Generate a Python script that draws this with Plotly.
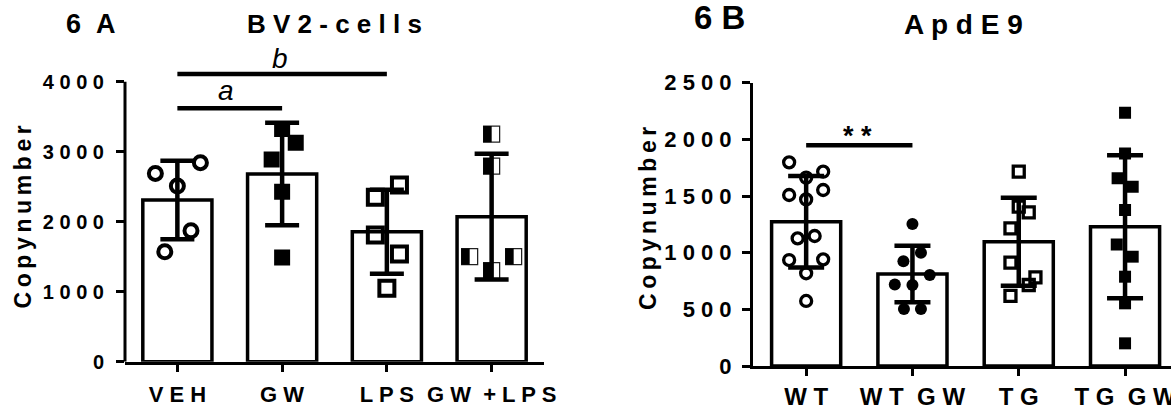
import plotly.graph_objects as go

W, H = 1171, 410
FONT = "Arial, Liberation Sans, sans-serif"
NB = "\u00a0"

# ---------------- Panel A (BV2-cells) ----------------
a_categories = ["VEH", "GW", "LPS", "GW+LPS"]
a_ticklabels = ["V E H", "G W", "L P S", "G W" + NB + NB + "+ L P S"]
a_means = [2310, 2681, 1857, 2071]
a_sd = [560, 733, 600, 898]
a_veh = [2690, 2843, 2510, 1871, 1571]
a_gw = [3324, 3129, 2890, 2429, 1490]
a_lps = [2524, 2348, 1810, 1538, 1048]
a_gwlps = [3252, 2795, 1500, 1500, 1300]
a_yticks = [0, 1000, 2000, 3000, 4000]
a_yticklabels = ["0", "1 0 0 0", "2 0 0 0", "3 0 0 0", "4 0 0 0"]
a_sig_a_level = 3619
a_sig_b_level = 4110

# ---------------- Panel B (ApdE9) ----------------
b_categories = ["WT", "WT GW", "TG", "TG GW"]
b_ticklabels = ["W T", "W T" + NB + NB + "G W", "T G", "T G" + NB + NB + "G W"]
b_means = [1273, 812, 1097, 1229]
b_sd = [404, 250, 388, 631]
b_wt = [1797, 1715, 1662, 1553, 1509, 1470, 1147, 1126, 941, 935, 818, 574]
b_wtgw = [1253, 1000, 925, 803, 720, 715, 503, 503]
b_tg = [1715, 1406, 1356, 1215, 912, 782, 715, 618]
b_tggw = [2235, 1876, 1656, 1582, 1376, 1073, 965, 788, 553, 200]
b_yticks = [0, 500, 1000, 1500, 2000, 2500]
b_yticklabels = ["0", "5 0 0", "1 0 0 0", "1 5 0 0", "2 0 0 0", "2 5 0 0"]
b_sig_level = 1948

# horizontal scatter layout of the dots (Prism-style spreading), in category units
a_jit = {
    "veh": [-0.21, 0.22, 0.0, 0.13, -0.12],
    "gw": [0.0, 0.13, -0.10, 0.0, 0.0],
    "lps": [0.12, -0.11, -0.11, 0.12, 0.0],
    "gwlps": [0.0, 0.0, -0.21, 0.21, 0.0],
}
b_jit = {
    "wt": [-0.16, 0.16, 0.0, 0.16, -0.16, 0.0, 0.08, -0.08, 0.16, -0.16, 0.0, 0.0],
    "wtgw": [0.0, 0.08, -0.085, 0.163, -0.166, 0.0, -0.08, 0.08],
    "tg": [0.0, 0.0, 0.094, -0.078, -0.078, 0.157, 0.094, -0.078],
    "tggw": [0.0, 0.0, -0.07, 0.072, 0.0, -0.078, 0.072, 0.0, 0.0, 0.0],
}


def xs(idx, offs):
    return [idx + o for o in offs]


fig = go.Figure()

# ---- Panel A
fig.add_trace(go.Bar(x=list(range(4)), y=a_means, width=0.66,
                     marker=dict(color="white", line=dict(color="black", width=3.5)),
                     xaxis="x", yaxis="y", showlegend=False, hoverinfo="skip"))
fig.add_trace(go.Scatter(x=xs(0, a_jit["veh"]), y=a_veh, mode="markers",
                         marker=dict(symbol="circle-open", size=13, color="black",
                                     line=dict(width=4, color="black")),
                         xaxis="x", yaxis="y", showlegend=False))
fig.add_trace(go.Scatter(x=xs(1, a_jit["gw"]), y=a_gw, mode="markers",
                         marker=dict(symbol="square", size=16, color="black", line=dict(width=0)),
                         xaxis="x", yaxis="y", showlegend=False))
fig.add_trace(go.Scatter(x=xs(2, a_jit["lps"]), y=a_lps, mode="markers",
                         marker=dict(symbol="square-open", size=15, color="black",
                                     line=dict(width=4, color="black")),
                         xaxis="x", yaxis="y", showlegend=False))
# half-filled squares: white square with thin outline + black left half
fig.add_trace(go.Scatter(x=xs(3, a_jit["gwlps"]), y=a_gwlps, mode="markers",
                         marker=dict(symbol="square", size=16, color="white",
                                     line=dict(width=1.3, color="#222")),
                         xaxis="x", yaxis="y", showlegend=False))
fig.add_trace(go.Scatter(x=[v - 0.04 for v in xs(3, a_jit["gwlps"])], y=a_gwlps, mode="markers",
                         marker=dict(symbol="line-ns", size=11.6, color="black",
                                     line=dict(width=8.5, color="black")),
                         xaxis="x", yaxis="y", showlegend=False))
fig.add_trace(go.Scatter(x=list(range(4)), y=a_means, mode="markers",
                         marker=dict(size=1, color="rgba(0,0,0,0)"),
                         error_y=dict(type="data", array=a_sd, visible=True,
                                      color="black", thickness=4.5, width=17),
                         xaxis="x", yaxis="y", showlegend=False, hoverinfo="skip"))

# ---- Panel B
fig.add_trace(go.Bar(x=list(range(4)), y=b_means, width=0.65,
                     marker=dict(color="white", line=dict(color="black", width=3.5)),
                     xaxis="x2", yaxis="y2", showlegend=False, hoverinfo="skip"))
fig.add_trace(go.Scatter(x=xs(0, b_jit["wt"]), y=b_wt, mode="markers",
                         marker=dict(symbol="circle-open", size=11, color="black",
                                     line=dict(width=3.3, color="black")),
                         xaxis="x2", yaxis="y2", showlegend=False))
fig.add_trace(go.Scatter(x=xs(1, b_jit["wtgw"]), y=b_wtgw, mode="markers",
                         marker=dict(symbol="circle", size=12, color="black", line=dict(width=0)),
                         xaxis="x2", yaxis="y2", showlegend=False))
fig.add_trace(go.Scatter(x=xs(2, b_jit["tg"]), y=b_tg, mode="markers",
                         marker=dict(symbol="square-open", size=11, color="black",
                                     line=dict(width=3.3, color="black")),
                         xaxis="x2", yaxis="y2", showlegend=False))
fig.add_trace(go.Scatter(x=xs(3, b_jit["tggw"]), y=b_tggw, mode="markers",
                         marker=dict(symbol="square", size=12, color="black", line=dict(width=0)),
                         xaxis="x2", yaxis="y2", showlegend=False))
fig.add_trace(go.Scatter(x=list(range(4)), y=b_means, mode="markers",
                         marker=dict(size=1, color="rgba(0,0,0,0)"),
                         error_y=dict(type="data", array=b_sd, visible=True,
                                      color="black", thickness=4.5, width=18),
                         xaxis="x2", yaxis="y2", showlegend=False, hoverinfo="skip"))

tickfont_common = dict(family=FONT, color="black", weight="bold")

axA_x = dict(domain=[125 / W, 544 / W], range=[-0.5, 3.5], anchor="y",
             tickmode="array", tickvals=list(range(4)), ticktext=a_ticklabels,
             ticks="outside", ticklen=7, tickwidth=3, tickcolor="black",
             showline=True, linewidth=3, linecolor="black", showgrid=False, zeroline=False,
             tickfont=dict(size=22, **tickfont_common), ticklabelstandoff=4,
             ticklabeloverflow="allow", automargin=False, fixedrange=True)
axA_y = dict(domain=[(H - 361.7) / H, (H - 60.7) / H], range=[0, 4300], anchor="x",
             tickmode="array", tickvals=a_yticks, ticktext=a_yticklabels,
             ticks="outside", ticklen=8, tickwidth=3, tickcolor="black",
             showline=False, showgrid=False, zeroline=False,
             tickfont=dict(size=20, **tickfont_common), ticklabelstandoff=8,
             ticklabeloverflow="allow", automargin=False, fixedrange=True)
axB_x = dict(domain=[753 / W, 1.0], range=[-0.5, (W - 753) / 106.3 - 0.5], anchor="y2",
             tickmode="array", tickvals=list(range(4)), ticktext=b_ticklabels,
             ticks="outside", ticklen=7, tickwidth=3, tickcolor="black",
             showline=True, linewidth=3, linecolor="black", showgrid=False, zeroline=False,
             tickfont=dict(size=24, **tickfont_common), ticklabelstandoff=0,
             ticklabeloverflow="allow", automargin=False, fixedrange=True)
axB_y = dict(domain=[(H - 366) / H, (H - 82.7) / H], range=[0, 2500], anchor="x2",
             tickmode="array", tickvals=b_yticks, ticktext=b_yticklabels,
             ticks="outside", ticklen=8, tickwidth=3, tickcolor="black",
             showline=True, linewidth=3, linecolor="black", showgrid=False, zeroline=False,
             tickfont=dict(size=22, **tickfont_common), ticklabelstandoff=6,
             ticklabeloverflow="allow", automargin=False, fixedrange=True)

shapes = [
    # panel A y-axis line (stops at 4000)
    dict(type="line", xref="x domain", yref="y", x0=0, x1=0, y0=0, y1=a_yticks[-1],
         line=dict(color="black", width=3)),
    # significance lines
    dict(type="line", xref="x", yref="y", x0=0, x1=1, y0=a_sig_a_level, y1=a_sig_a_level,
         line=dict(color="black", width=4.5)),
    dict(type="line", xref="x", yref="y", x0=0, x1=2, y0=a_sig_b_level, y1=a_sig_b_level,
         line=dict(color="black", width=4.5)),
    dict(type="line", xref="x2", yref="y2", x0=0, x1=1, y0=b_sig_level, y1=b_sig_level,
         line=dict(color="black", width=4.5)),
]

TS = "\u2009"
annotations = [
    dict(text="6" + NB + NB + "A", x=91 / W, y=1 - 24 / H, xref="paper", yref="paper",
         showarrow=False, xanchor="center", yanchor="middle",
         font=dict(family=FONT, size=27, color="black", weight="bold")),
    dict(text="B V 2 - c e l l s", x=334 / W, y=1 - 24 / H, xref="paper", yref="paper",
         showarrow=False, xanchor="center", yanchor="middle",
         font=dict(family=FONT, size=26, color="black", weight="bold")),
    dict(text="6 B", x=719 / W, y=1 - 17 / H, xref="paper", yref="paper",
         showarrow=False, xanchor="center", yanchor="middle",
         font=dict(family=FONT, size=33, color="black", weight="bold")),
    dict(text="A p d E 9", x=963 / W, y=1 - 24 / H, xref="paper", yref="paper",
         showarrow=False, xanchor="center", yanchor="middle",
         font=dict(family=FONT, size=28, color="black", weight="bold")),
    dict(text=TS.join("Copynumber"), x=22 / W, y=1 - 217.5 / H, xref="paper", yref="paper",
         showarrow=False, xanchor="center", yanchor="middle", textangle=-90,
         font=dict(family=FONT, size=23, color="black", weight="bold")),
    dict(text=TS.join("Copynumber"), x=648 / W, y=1 - 219 / H, xref="paper", yref="paper",
         showarrow=False, xanchor="center", yanchor="middle", textangle=-90,
         font=dict(family=FONT, size=23, color="black", weight="bold")),
    dict(text="a", x=0.46, y=a_sig_a_level, xref="x", yref="y", showarrow=False,
         xanchor="center", yanchor="bottom", yshift=0,
         font=dict(family=FONT, size=28, color="black", style="italic")),
    dict(text="b", x=0.98, y=a_sig_b_level, xref="x", yref="y", showarrow=False,
         xanchor="center", yanchor="bottom", yshift=-2,
         font=dict(family=FONT, size=28, color="black", style="italic")),
    dict(text="* *", x=0.48, y=b_sig_level, xref="x2", yref="y2", showarrow=False,
         xanchor="center", yanchor="bottom", yshift=-8,
         font=dict(family=FONT, size=27, color="black", weight="bold")),
]

fig.update_layout(
    width=W, height=H, margin=dict(l=0, r=0, t=0, b=0, pad=0),
    paper_bgcolor="white", plot_bgcolor="white",
    xaxis=axA_x, yaxis=axA_y, xaxis2=axB_x, yaxis2=axB_y,
    shapes=shapes, annotations=annotations, showlegend=False,
    barmode="overlay",
)

fig.write_html("out.html")
